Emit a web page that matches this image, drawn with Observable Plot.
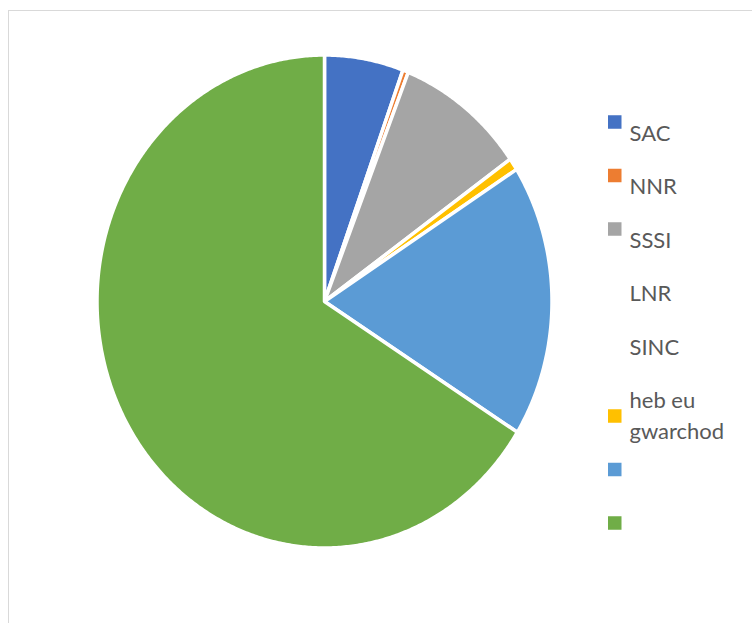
<!DOCTYPE html>
<html>
<head>
<meta charset="utf-8">
<script src="https://cdn.jsdelivr.net/npm/d3@7"></script>
<script src="https://cdn.jsdelivr.net/npm/@observablehq/plot@0.6"></script>
<style>
  html, body { margin: 0; padding: 0; background: #fff; }
  #wrap { position: relative; width: 752px; height: 623px; overflow: hidden; }
  #frame { position: absolute; left: 8px; top: 10px; width: 800px; height: 700px;
           border-left: 1.5px solid #d9d9d9; border-top: 1.5px solid #d9d9d9; pointer-events: none; }
</style>
</head>
<body>
<div id="wrap"><div id="frame"></div></div>
<script>
// Data
const categories = ["SAC", "NNR", "SSSI", "LNR", "SINC", "heb eu\ngwarchod", "", ""];
const values     = [5.6, 0.4, 9.2, 0, 0, 0.8, 17.9, 66.1];
const colors     = ["#4472C4", "#ED7D31", "#A5A5A5", null, null, "#FFC000", "#5B9BD5", "#70AD47"];

// Layout
const W = 752, H = 623;
const cx = 324, cy = 301, rx = 227.5, ry = 246.5;

const rows = categories.map((c, i) => ({key: i, label: c, value: values[i], color: colors[i]}));
const arcs = d3.pie().sort(null).value(d => d.value)(rows);

const pts = [];
for (const a of arcs) {
  if (!a.data.value) continue;
  const n = Math.max(4, Math.ceil((a.endAngle - a.startAngle) * 120));
  pts.push({key: a.data.key, color: a.data.color, x: cx, y: cy});
  for (let k = 0; k <= n; k++) {
    const t = a.startAngle + (a.endAngle - a.startAngle) * k / n;
    pts.push({key: a.data.key, color: a.data.color, x: cx + rx * Math.sin(t), y: cy - ry * Math.cos(t)});
  }
}

// Legend layout
const legX = 608, sq = 13.5, textX = 629, lineH = 31;
let yc = 122;
const legend = rows.map((d, i) => {
  const lines = d.label.split("\n").length;
  if (i > 0) yc += 53.5 + (lines - 1) * 26.5;
  const ty = yc + 18 - (lines - 1) * 27;            // first-line baseline
  return {...d, yc, lines, ty, tyLast: ty + (lines - 1) * lineH};
});

const plot = Plot.plot({
  width: W, height: H,
  margin: 0,
  x: {domain: [0, W], range: [0, W], axis: null},
  y: {domain: [0, H], range: [0, H], axis: null},
  color: {type: "identity"},
  style: {background: "transparent"},
  marks: [
    Plot.line(pts, {x: "x", y: "y", z: "key", fill: "color", stroke: "white", strokeWidth: 3.5,
                    strokeLinejoin: "round", curve: "linear-closed"}),
    Plot.rect(legend.filter(d => d.color), {x1: legX, x2: legX + sq, y1: d => d.yc - sq / 2, y2: d => d.yc + sq / 2, fill: "color"}),
    Plot.text(legend.filter(d => d.label), {x: textX, y: "tyLast", text: "label", textAnchor: "start",
                    lineAnchor: "bottom", lineHeight: lineH / 22,
                    fill: "#595959", fontSize: 22, fontFamily: "Lato"})
  ]
});
document.getElementById("wrap").prepend(plot);
</script>
</body>
</html>
